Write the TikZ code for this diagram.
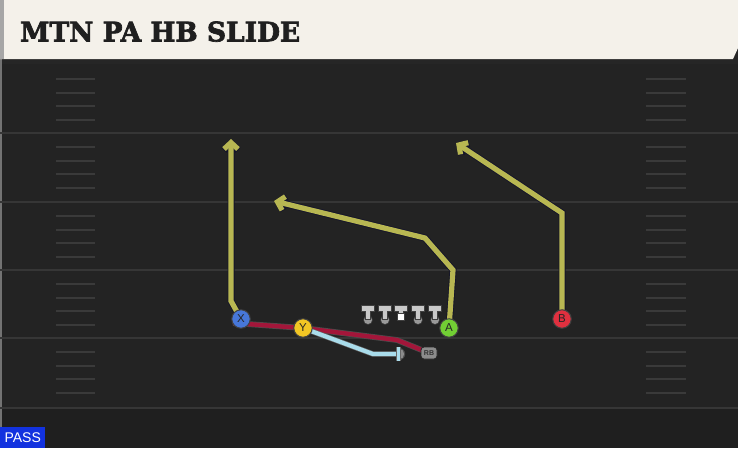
\documentclass[tikz,border=0pt]{standalone}
\usepackage{fontspec}
\setmainfont{Liberation Sans}
\newfontfamily\titlefont{DejaVu Serif}[BoldFeatures={FakeBold=2.5}]
\usetikzlibrary{arrows.meta}
\definecolor{fieldbg}{HTML}{232323}
\definecolor{fieldlow}{HTML}{1F1F1F}
\definecolor{yardline}{HTML}{363636}
\definecolor{hashc}{HTML}{3A3A3A}
\definecolor{headerbg}{HTML}{F4F1EA}
\definecolor{routec}{HTML}{B8B752}
\definecolor{outl}{HTML}{15152A}
\definecolor{blockc}{HTML}{A3163A}
\definecolor{lblue}{HTML}{A9DCEB}
\definecolor{xblue}{HTML}{4777D9}
\definecolor{yyel}{HTML}{F2C624}
\definecolor{agreen}{HTML}{72CF34}
\definecolor{bred}{HTML}{E0303F}
\definecolor{olgrey}{HTML}{C9C9C9}
\definecolor{passblue}{HTML}{1232DF}
\pgfdeclarelayer{field}
\pgfdeclarelayer{routes}
\pgfsetlayers{field,routes,main}
\tikzset{
  routeline/.style={draw=routec, line width=5.2pt, line join=miter, -{Straight Barb[length=6.5pt,width=14pt]},
    preaction={draw=outl, line width=7pt, -{Straight Barb[length=6.5pt,width=14pt]}}},
  blockline/.style={draw=blockc, line width=4.4pt, line join=round,
    preaction={draw=black!70, line width=5.8pt}},
  blueline/.style={draw=lblue, line width=4.2pt, line join=miter,
    preaction={draw=black!60, line width=5.4pt}},
  player/.style={circle, draw=black!75, line width=1pt, minimum size=18.5pt, inner sep=0pt,
    font=\fontsize{11.5}{11.5}\selectfont, text=black!85},
  yardl/.style={draw=yardline, line width=1.6pt},
  hashl/.style={draw=hashc, line width=1.4pt},
}
\begin{document}
\begin{tikzpicture}[x=1pt,y=-1pt]
\useasboundingbox (0,0) rectangle (738,448);
\begin{pgfonlayer}{field}
  \fill[black!85] (0,0) rectangle (738,64);
  \fill[fieldbg] (0,64) rectangle (738,448);
  \fill[fieldlow] (0,408) rectangle (738,448);
  \fill[black!55] (0,59) rectangle (2,448);
  \foreach \yy in {133,202,270,338,408} {
    \draw[yardl] (0,\yy) -- (738,\yy);
  }
  \foreach \yy in {65,133,202,270,338} {
    \foreach \d in {14,28,41,55} {
      \draw[hashl] (56,\yy+\d) -- (95,\yy+\d);
      \draw[hashl] (646,\yy+\d) -- (686,\yy+\d);
    }
  }
  \fill[headerbg] (0,0) -- (738,0) -- (738,48) -- (733,59) -- (0,59) -- cycle;
  \fill[black!35] (0,0) rectangle (4,59);
\end{pgfonlayer}
% title
\node[anchor=south west, inner sep=0pt, text=black!88] (title) at (20,42)
  {\resizebox{280pt}{20pt}{\titlefont\bfseries MTN PA HB SLIDE}};
% PASS label
\node[anchor=south west, fill=passblue, text=white, inner sep=0pt, minimum width=45pt, minimum height=21pt,
  font=\fontsize{14}{14}\selectfont] (pass) at (0,448) {PASS};
% players
\node[player, fill=xblue] (X) at (241,319) {X};
\node[player, fill=yyel] (Y) at (303,328) {Y};
\node[player, fill=agreen] (A) at (449,328) {A};
\node[player, fill=bred] (B) at (562,319) {B};
\node[draw=black!85, line width=0.8pt, fill=black!45, rounded corners=3pt, minimum width=16pt, minimum height=12pt, inner sep=0pt,
  font=\fontsize{7}{7}\selectfont\bfseries, text=black!80] (RB) at (429,353) {RB};
% route waypoints
\coordinate (x1) at (231,301);
\coordinate (x2) at (231,139);
\coordinate (a1) at (453,270);
\coordinate (a2) at (425,238);
\coordinate (a3) at (274,201);
\coordinate (b1) at (562,213);
\coordinate (b2) at (456,143);
\coordinate (r0) at (233,323);
\coordinate (r1) at (397,340);
\coordinate (l1) at (373,354);
\coordinate (l2) at (397,354);
\coordinate (lt) at (398.5,347);
\coordinate (lb) at (398.5,361);
\begin{pgfonlayer}{routes}
  \draw[routeline] (X.center) -- (x1) -- (x2);
  \draw[routeline] (A.center) -- (a1) -- (a2) -- (a3);
  \draw[routeline] (B.center) -- (b1) -- (b2);
  \draw[blockline] (r0) -- (Y.center) -- (r1) -- (RB.center);
  \draw[blueline] (Y.center) -- (l1) -- (l2);
  \begin{scope}
    \clip (399,340) rectangle (412,368);
    \fill[black!70] (399,354) circle (6.2);
    \fill[black!45] (399,354) circle (5.2);
  \end{scope}
  \draw[draw=black!60, line width=4.6pt] (lt) -- (lb);
  \draw[draw=lblue, line width=3.2pt] (lt) -- (lb);
\end{pgfonlayer}
% linemen
\foreach \lx/\nm in {368/lt1,385/lg1,418/rg1,435/rt1} {
  \coordinate (\nm) at (\lx,313);
  \fill[black!75] (\lx,320) circle (4.8);
  \fill[black!40] (\lx,320) circle (4);
  \fill[draw=black!75, line width=0.8pt, fill=olgrey] (\lx-6.5,305.5) -- (\lx+6.5,305.5) -- (\lx+6.5,311) -- (\lx+2.4,311) -- (\lx+2.4,319) -- (\lx-2.4,319) -- (\lx-2.4,311) -- (\lx-6.5,311) -- cycle;
}
\coordinate (ctr) at (401,313);
\fill[draw=black!75, line width=0.8pt, fill=olgrey] (394.5,305.5) -- (407.5,305.5) -- (407.5,311) -- (403.4,311) -- (403.4,313) -- (398.6,313) -- (398.6,311) -- (394.5,311) -- cycle;
\fill[draw=black!75, line width=0.8pt, fill=white] (397.5,313) rectangle (404.5,320.5);
\end{tikzpicture}
\end{document}
